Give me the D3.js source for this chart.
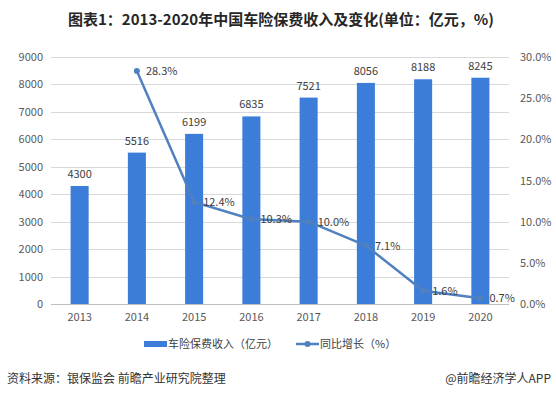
<!DOCTYPE html>
<html>
<head>
<meta charset="utf-8">
<script src="https://cdn.jsdelivr.net/npm/d3@7"></script>
<style>
  body { margin: 0; background: #fff; }
  svg { display: block; font-family: "Noto Sans CJK SC", "Noto Sans", sans-serif; }
</style>
</head>
<body>
<svg id="chart"></svg>
<script>
var years = ["2013", "2014", "2015", "2016", "2017", "2018", "2019", "2020"]
var income = [4300, 5516, 6199, 6835, 7521, 8056, 8188, 8245]
var growthYears = ["2014", "2015", "2016", "2017", "2018", "2019", "2020"]
var growth = [28.3, 12.4, 10.3, 10.0, 7.1, 1.6, 0.7]
var leftTicks = [0, 1000, 2000, 3000, 4000, 5000, 6000, 7000, 8000, 9000]
var rightTicks = [0, 5, 10, 15, 20, 25, 30]

var dimensions = {
    width: 556,
    height: 396,
    margin: { top: 57, bottom: 92, left: 51, right: 47 }
}

var barColor = "#3b7dd8"
var lineColor = "#4f80c0"

var svg = d3.select("#chart")
    .attr("width", dimensions.width)
    .attr("height", dimensions.height)

var x0 = dimensions.margin.left
var x1 = dimensions.width - dimensions.margin.right
var y0 = dimensions.height - dimensions.margin.bottom
var y1 = dimensions.margin.top

var xScale = d3.scaleBand().domain(years).range([x0, x1])
var yLeft = d3.scaleLinear().domain([0, 9000]).range([y0, y1])
var yRight = d3.scaleLinear().domain([0, 30]).range([y0, y1])
var barWidth = xScale.bandwidth() * 0.315

// title
svg.append("text")
    .attr("x", 281)
    .attr("y", 25)
    .attr("text-anchor", "middle")
    .style("font-size", "15px")
    .style("font-weight", "bold")
    .style("fill", "#262626")
    .text("图表1：2013-2020年中国车险保费收入及变化(单位：亿元，%)")

// gridlines
svg.append("g")
    .selectAll("line")
    .data(leftTicks)
    .enter()
    .append("line")
    .attr("x1", x0)
    .attr("x2", x1)
    .attr("y1", d => Math.round(yLeft(d)) + 0.5)
    .attr("y2", d => Math.round(yLeft(d)) + 0.5)
    .attr("stroke", d => d == 0 ? "#bfbfbf" : "#d9d9d9")
    .attr("stroke-width", 1)

// left axis
var yAxisLeft = svg.append("g")
    .attr("transform", `translate(${x0 - 8},0)`)
    .call(d3.axisLeft(yLeft).tickValues(leftTicks).tickSize(0).tickPadding(0)
        .tickFormat(d => d))
yAxisLeft.select(".domain").remove()

// right axis
var yAxisRight = svg.append("g")
    .attr("transform", `translate(${x1 + 11},0)`)
    .call(d3.axisRight(yRight).tickValues(rightTicks).tickSize(0).tickPadding(0)
        .tickFormat(d => d.toFixed(1) + "%"))
yAxisRight.select(".domain").remove()

// x axis
var xAxis = svg.append("g")
    .attr("transform", `translate(0,${y0 + 9})`)
    .call(d3.axisBottom(xScale).tickSize(0).tickPadding(0))
xAxis.select(".domain").remove()

svg.selectAll(".tick text")
    .style("font-size", "11px")
    .style("fill", "#595959")
    .style("font-family", "\"Noto Sans CJK SC\", sans-serif")

// bars
svg.append("g")
    .selectAll("rect")
    .data(income)
    .enter()
    .append("rect")
    .attr("x", (d, i) => xScale(years[i]) + xScale.bandwidth() / 2 - barWidth / 2)
    .attr("y", d => yLeft(d))
    .attr("width", barWidth)
    .attr("height", d => y0 - yLeft(d))
    .attr("fill", barColor)

svg.append("g")
    .selectAll("text")
    .data(income)
    .enter()
    .append("text")
    .attr("x", (d, i) => xScale(years[i]) + xScale.bandwidth() / 2)
    .attr("y", d => yLeft(d) - 8)
    .attr("text-anchor", "middle")
    .style("font-size", "11px")
    .style("fill", "#404040")
    .text(d => d)

// growth line
var cx = (d, i) => xScale(growthYears[i]) + xScale.bandwidth() / 2
var lineGen = d3.line()
    .x(cx)
    .y(d => yRight(d))

svg.append("path")
    .datum(growth)
    .attr("d", lineGen)
    .attr("fill", "none")
    .attr("stroke", lineColor)
    .attr("stroke-width", 2.5)

svg.append("g")
    .selectAll("circle")
    .data(growth)
    .enter()
    .append("circle")
    .attr("cx", cx)
    .attr("cy", d => yRight(d))
    .attr("r", 3)
    .attr("fill", lineColor)

svg.append("g")
    .selectAll("text")
    .data(growth)
    .enter()
    .append("text")
    .attr("x", (d, i) => cx(d, i) + 9)
    .attr("y", d => yRight(d) + 4)
    .style("font-size", "11px")
    .style("fill", "#404040")
    .text(d => d.toFixed(1) + "%")

// legend
var legend = svg.append("g").attr("transform", "translate(0,344)")
legend.append("rect")
    .attr("x", 144)
    .attr("y", -3)
    .attr("width", 23)
    .attr("height", 6)
    .attr("fill", barColor)
legend.append("text")
    .attr("x", 168)
    .attr("y", 4)
    .style("font-size", "11px")
    .style("fill", "#404040")
    .text("车险保费收入（亿元）")
legend.append("line")
    .attr("x1", 296)
    .attr("x2", 319)
    .attr("y1", 0)
    .attr("y2", 0)
    .attr("stroke", lineColor)
    .attr("stroke-width", 2.5)
legend.append("circle")
    .attr("cx", 307.5)
    .attr("cy", 0)
    .attr("r", 3)
    .attr("fill", lineColor)
legend.append("text")
    .attr("x", 320)
    .attr("y", 4)
    .style("font-size", "11px")
    .style("fill", "#404040")
    .text("同比增长（%）")

// footer
svg.append("text")
    .attr("x", 7)
    .attr("y", 383)
    .style("font-size", "12px")
    .style("fill", "#333")
    .text("资料来源：银保监会 前瞻产业研究院整理")
svg.append("text")
    .attr("x", 551)
    .attr("y", 383)
    .attr("text-anchor", "end")
    .style("font-size", "12px")
    .style("fill", "#333")
    .text("@前瞻经济学人APP")
</script>
</body>
</html>
